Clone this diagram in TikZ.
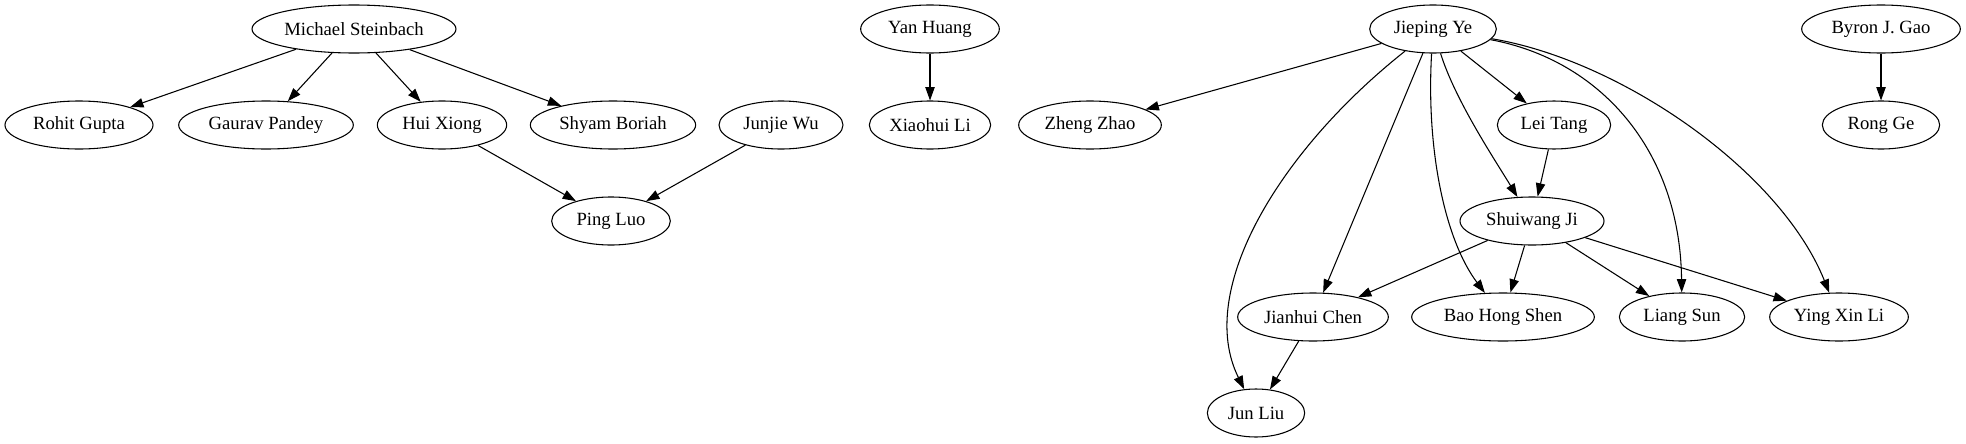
\documentclass[tikz,border=0pt]{standalone}
\usepackage{fontspec}
\setmainfont{Liberation Serif}
\usetikzlibrary{shapes.geometric}
\usetikzlibrary{positioning}
\usetikzlibrary{arrows.meta}
\tikzset{node distance=72pt, % one rank down
person/.style={ % Sets the properties for each author
draw, ellipse,
line width=0.8pt,
inner sep=0pt,
minimum height=36pt,
font=\fontsize{14}{16}\selectfont},
link/.style={ % Sets the properties for each arrow
draw,
->,>={Triangle[length=10pt,width=7pt]},
line width=0.8pt},
every edge/.style={link}}

\begin{document}
\begin{tikzpicture}[x=0.75pt,y=-0.75pt]
    \useasboundingbox (0,0) rectangle (1966,443);
    \node[person, minimum width=153pt] (ms) at (354,29) {Michael Steinbach};
    \node[person, minimum width=111pt] (rg) at (79,125) {Rohit Gupta};
    \node[person, minimum width=131pt] (gp) at (266,125) {Gaurav Pandey};
    \node[person, minimum width=97pt] (hx) at (442,125) {Hui Xiong};
    \node[person, minimum width=124pt] (sb) at (613,125) {Shyam Boriah};
    \node[person, minimum width=93pt] (jw) at (781,125) {Junjie Wu};
    \node[person, minimum width=89pt] (pl) at (611,221) {Ping Luo};
    \node[person, minimum width=104pt] (yh) at (930,29) {Yan Huang};
    \node[person, minimum width=91pt, below of=yh] (xl) {Xiaohui Li};
    \node[person, minimum width=95pt] (jy) at (1433,29) {Jieping Ye};
    \node[person, minimum width=107pt] (zz) at (1090,125) {Zheng Zhao};
    \node[person, minimum width=85pt] (lt) at (1554,125) {Lei Tang};
    \node[person, minimum width=108pt] (sj) at (1532,221) {Shuiwang Ji};
    \node[person, minimum width=113pt] (jc) at (1313,317) {Jianhui Chen};
    \node[person, minimum width=137pt] (bhs) at (1503,317) {Bao Hong Shen};
    \node[person, minimum width=94pt] (ls) at (1682,317) {Liang Sun};
    \node[person, minimum width=104pt] (yxl) at (1839,317) {Ying Xin Li};
    \node[person, minimum width=73pt] (jl) at (1256,413) {Jun Liu};
    \node[person, minimum width=119pt] (bg) at (1881,29) {Byron J. Gao};
    \node[person, minimum width=88pt, below of=bg] (rge) {Rong Ge};
    \draw (ms) edge (rg);
    \draw (ms) edge (gp);
    \draw (ms) edge (hx);
    \draw (ms) edge (sb);
    \draw (hx) edge (pl);
    \draw (jw) edge (pl);
    \draw (yh) edge (xl);
    \draw (bg) edge (rge);
    \draw (jy) edge (zz);
    \draw (jy) edge (lt);
    \draw (jy) edge (jc);
    \draw (lt) edge (sj);
    \draw (sj) edge (jc);
    \draw (sj) edge (bhs);
    \draw (sj) edge (ls);
    \draw (sj) edge (yxl);
    \draw (jc) edge (jl);
    % curved ones out of Jieping Ye
    \draw[link] (jy) .. controls (1280,150) and (1195,290) .. (jl);
    \draw[link] (jy) .. controls (1426,150) and (1445,240) .. (bhs);
    \draw[link] (jy) .. controls (1455,100) and (1495,160) .. (sj);
    \draw[link] (jy) .. controls (1600,60) and (1680,150) .. (ls);
    \draw[link] (jy) .. controls (1620,60) and (1780,170) .. (yxl);
\end{tikzpicture}
\end{document}
